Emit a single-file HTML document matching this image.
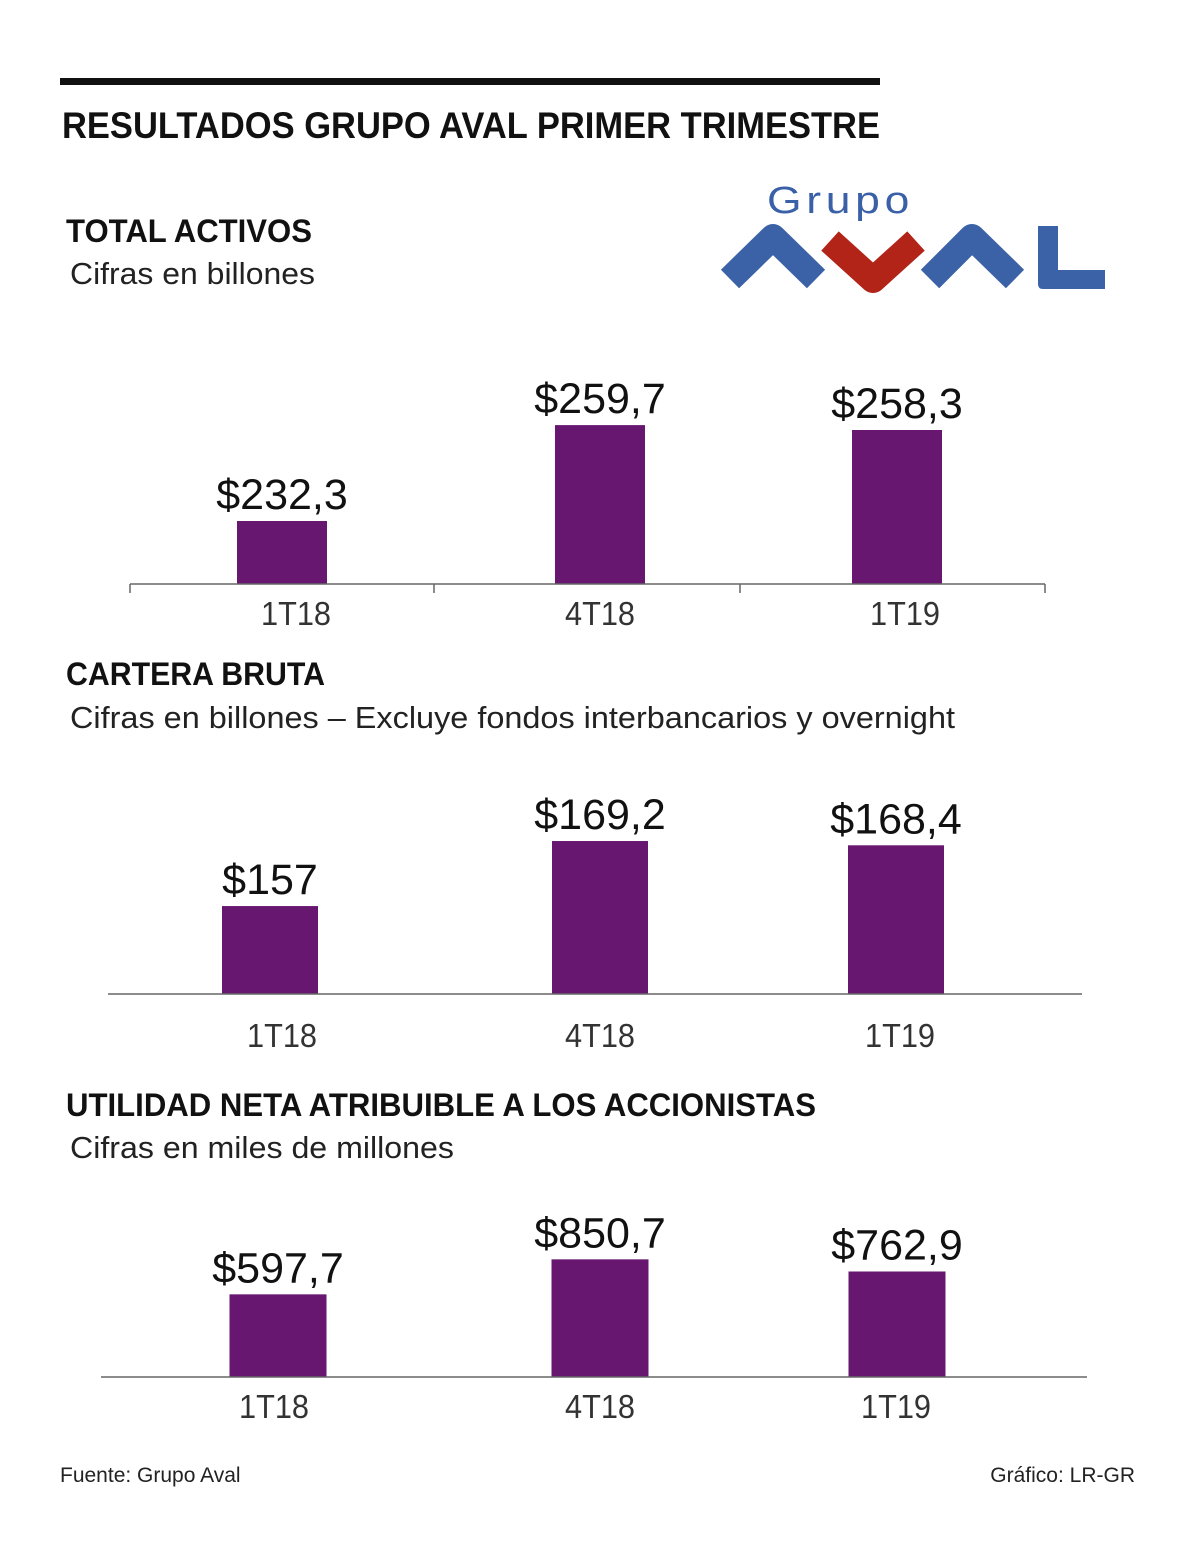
<!DOCTYPE html>
<html><head><meta charset="utf-8"><style>
html,body{margin:0;padding:0;background:#fff}
svg{display:block}
text{font-family:"Liberation Sans",sans-serif}
</style></head><body>
<svg id="root" width="1200" height="1564" viewBox="0 0 1200 1564" xmlns="http://www.w3.org/2000/svg">
<rect x="60" y="78" width="820" height="7" fill="#111"/>
<text x="62" y="138" font-size="37" font-weight="bold" fill="#111" textLength="818" lengthAdjust="spacingAndGlyphs">RESULTADOS GRUPO AVAL PRIMER TRIMESTRE</text>

<g>
<text x="767" y="213" font-size="38" fill="#3a60a8" textLength="147" lengthAdjust="spacingAndGlyphs" style="letter-spacing:4px">Grupo</text>
<polyline points="730,279 773,237 816,279" fill="none" stroke="#3b61a7" stroke-width="26" stroke-linejoin="round"/>
<polyline points="830,241 873,280 916,241" fill="none" stroke="#b22318" stroke-width="26" stroke-linejoin="round"/>
<polyline points="930,279 972,237 1015,279" fill="none" stroke="#3b61a7" stroke-width="26" stroke-linejoin="round"/>
<path d="M1038,226 h20 v44 h47 v19 h-62 q-5,0 -5,-5 z" fill="#3b61a7"/>
</g>

<text x="66" y="242" font-size="32" font-weight="bold" fill="#111" textLength="246" lengthAdjust="spacingAndGlyphs">TOTAL ACTIVOS</text>
<text x="70" y="284" font-size="31" fill="#222" textLength="245" lengthAdjust="spacingAndGlyphs">Cifras en billones</text>

<text x="66" y="685" font-size="32" font-weight="bold" fill="#111" textLength="259" lengthAdjust="spacingAndGlyphs">CARTERA BRUTA</text>
<text x="70" y="728" font-size="31" fill="#222" textLength="885" lengthAdjust="spacingAndGlyphs">Cifras en billones – Excluye fondos interbancarios y overnight</text>

<text x="66" y="1116" font-size="32" font-weight="bold" fill="#111" textLength="750" lengthAdjust="spacingAndGlyphs">UTILIDAD NETA ATRIBUIBLE A LOS ACCIONISTAS</text>
<text x="70" y="1158" font-size="31" fill="#222" textLength="384" lengthAdjust="spacingAndGlyphs">Cifras en miles de millones</text>

<text x="60" y="1482" font-size="21" fill="#222">Fuente: Grupo Aval</text>
<text x="1135" y="1482" font-size="21" fill="#222" text-anchor="end">Gráfico: LR-GR</text>
<g id="charts"></g>
</svg>
<script>
const categories = ["1T18", "4T18", "1T19"];
const activosValues = [232.3, 259.7, 258.3];
const activosLabels = ["$232,3", "$259,7", "$258,3"];
const carteraValues = [157, 169.2, 168.4];
const carteraLabels = ["$157", "$169,2", "$168,4"];
const utilidadValues = [597.7, 850.7, 762.9];
const utilidadLabels = ["$597,7", "$850,7", "$762,9"];

const NS = "http://www.w3.org/2000/svg";
const host = document.getElementById("charts");
function mk(tag, attrs){const e=document.createElementNS(NS,tag);for(const k in attrs)e.setAttribute(k,attrs[k]);host.appendChild(e);return e;}

const cfgs = [
 {id:"activos", vals:activosValues, labels:activosLabels, base:584, min:214.3, k:3.5, x0:130, x1:1045, centers:[282,600,897], catX:[296,600,905], bw:90, ticks:[130,434,740,1045], catY:625},
 {id:"cartera", vals:carteraValues, labels:carteraLabels, base:994, min:140.5, k:5.33, x0:108, x1:1082, centers:[270,600,896], catX:[282,600,900], bw:96, ticks:[], catY:1047},
 {id:"utilidad", vals:utilidadValues, labels:utilidadLabels, base:1377, min:0, k:0.1383, x0:101, x1:1087, centers:[278,600,897], catX:[274,600,896], bw:97, ticks:[], catY:1418}
];
cfgs.forEach(c=>{
  const y = v => c.base - (v - c.min)*c.k;
  c.vals.forEach((v,i)=>{
    const top=y(v);
    const r=mk("rect",{x:c.centers[i]-c.bw/2,y:top,width:c.bw,height:c.base-top,fill:"#671770"});
    
    
    const t=mk("text",{x:c.centers[i],y:top-12,"font-size":43,"text-anchor":"middle",fill:"#111"});
    t.textContent=c.labels[i];
    
    
    const cl=mk("text",{x:c.catX[i],y:c.catY,"font-size":33,"text-anchor":"middle",fill:"#333",textLength:70,lengthAdjust:"spacingAndGlyphs"});
    cl.textContent=categories[i];
    
    
  });
  const ax=mk("line",{x1:c.x0,y1:c.base,x2:c.x1,y2:c.base,stroke:"#666","stroke-width":1.5});
  
  
  c.ticks.forEach(tx=>{
    const tk=mk("line",{x1:tx,y1:c.base,x2:tx,y2:c.base+9,stroke:"#666","stroke-width":1.5});
    
    
  });
});
</script>
</body></html>
